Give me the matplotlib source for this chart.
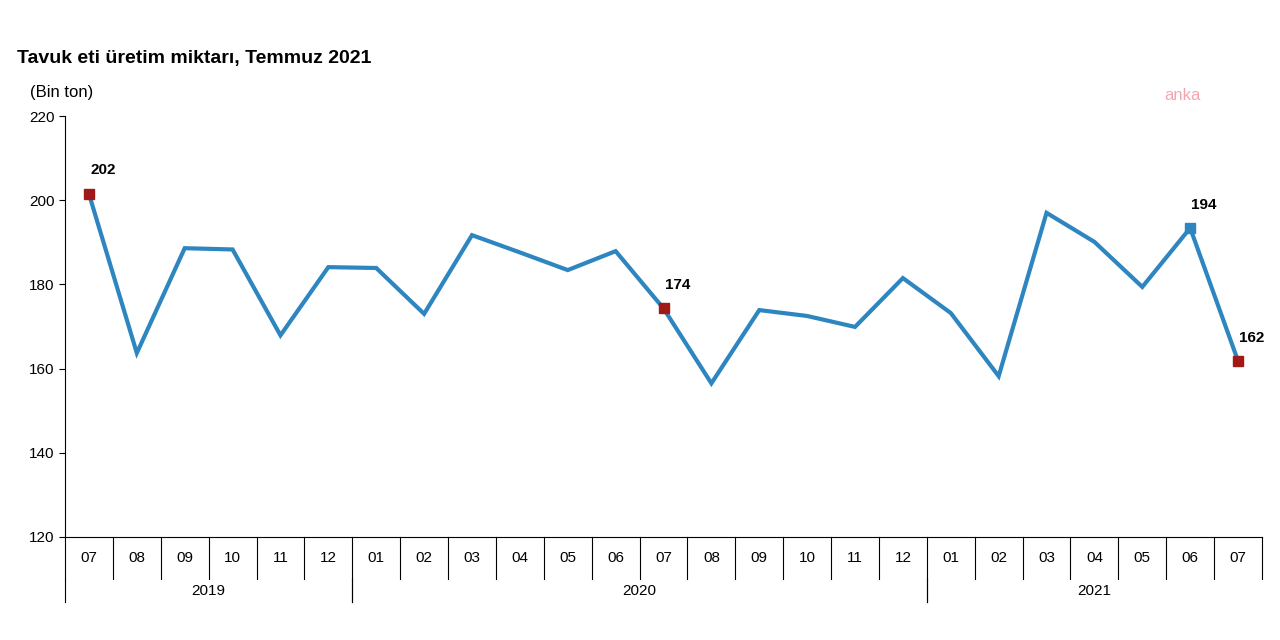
import matplotlib
matplotlib.use("Agg")
import matplotlib.pyplot as plt

months = ["07", "08", "09", "10", "11", "12",
          "01", "02", "03", "04", "05", "06", "07", "08", "09", "10", "11", "12",
          "01", "02", "03", "04", "05", "06", "07"]
values = [201.5, 163.7, 188.6, 188.3, 167.9, 184.1,
          183.9, 173.0, 191.7, 187.6, 183.4, 187.9, 174.3, 156.5, 173.9, 172.5, 169.9, 181.5,
          173.2, 158.2, 197.0, 190.1, 179.4, 193.4, 161.8]
years = ["2019", "2020", "2021"]
year_spans = [(0, 6), (6, 18), (18, 25)]
marked = {0: ("202", "#a01818"), 12: ("174", "#a01818"),
          23: ("194", "#2e86c1"), 24: ("162", "#a01818")}

plt.rcParams["font.family"] = "Liberation Sans"
fig = plt.figure(figsize=(12.8, 6.4), dpi=100)
ax = fig.add_axes([65 / 1280, 1 - 537 / 640, (1262 - 65) / 1280, (537 - 116) / 640])
x = list(range(len(values)))
ax.plot(x, values, color="#2e86c1", lw=3, solid_joinstyle="miter")
for i, (lab, col) in marked.items():
    ax.plot(i, values[i], "s", color=col, ms=7)
    ax.annotate(lab, (i, values[i]), xytext=(10, 14), textcoords="offset points",
                ha="center", fontsize=11, fontweight="bold")
ax.set_xlim(-0.5, len(values) - 0.5)
ax.set_ylim(120, 220)
ax.set_yticks(range(120, 221, 20))
ax.tick_params(axis="y", length=4, labelsize=11)
ax.set_xticks([])
for s in ["top", "right"]:
    ax.spines[s].set_visible(False)
# month cells
trans = ax.get_xaxis_transform()
for i, m in enumerate(months):
    ax.text(i, -0.05, m, transform=trans, ha="center", va="center", fontsize=11)
    ax.plot([i + 0.5, i + 0.5], [0, -0.10], transform=trans, color="black", lw=0.8, clip_on=False)
ax.plot([-0.5, -0.5], [0, -0.10], transform=trans, color="black", lw=0.8, clip_on=False)
for yr, (a, b) in zip(years, year_spans):
    ax.text((a + b - 1) / 2, -0.128, yr, transform=trans, ha="center", va="center", fontsize=11)
    for e in (a, b):
        if e < 25:
            ax.plot([e - 0.5, e - 0.5], [-0.10, -0.155], transform=trans,
                    color="black", lw=0.8, clip_on=False)

fig.text(17 / 1280, 1 - 58 / 640, "Tavuk eti üretim miktarı, Temmuz 2021",
         fontsize=14, fontweight="bold", va="center")
fig.text(30 / 1280, 1 - 92 / 640, "(Bin ton)", fontsize=12, va="center")
fig.text(1182 / 1280, 1 - 95 / 640, "anka", fontsize=12, color="#f4a6b0", ha="center", va="center")
fig.savefig("out.png", dpi=100)
